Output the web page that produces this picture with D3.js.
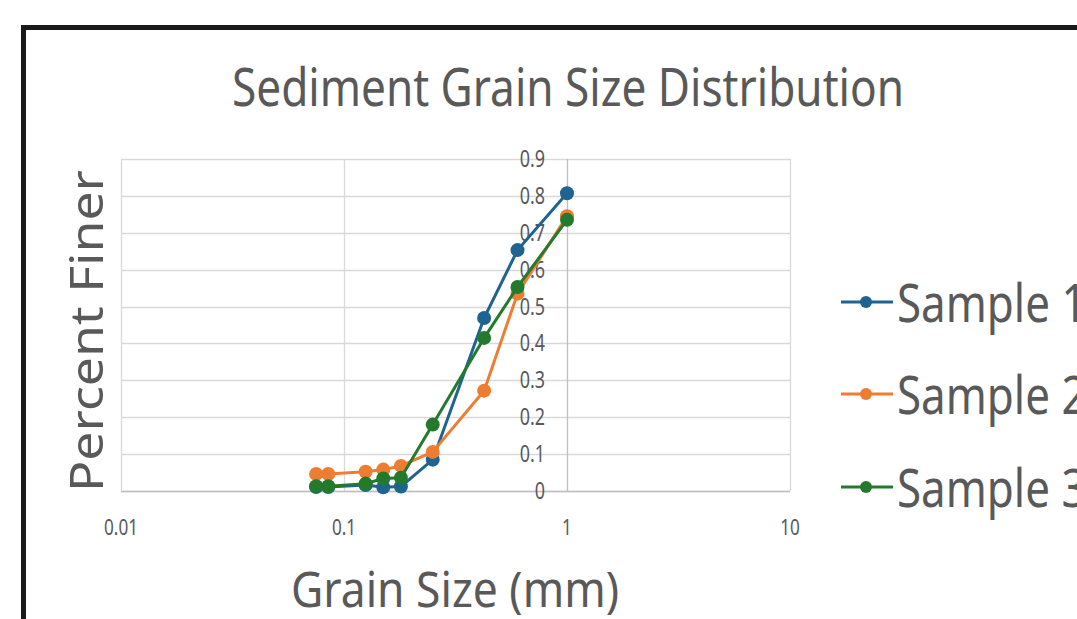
<!DOCTYPE html>
<html><head><meta charset="utf-8">
<script src="https://cdn.jsdelivr.net/npm/d3@7"></script>
<style>html,body{margin:0;padding:0;background:#fff;}svg{display:block;}</style>
</head><body>
<svg id="chart" width="1077" height="619"></svg>
<script>
const grainSizes = [0.075, 0.085, 0.125, 0.15, 0.18, 0.25, 0.425, 0.6, 1.0];
const sample1 = [0.011, 0.011, 0.016, 0.010, 0.012, 0.085, 0.469, 0.653, 0.807];
const sample2 = [0.046, 0.046, 0.052, 0.058, 0.068, 0.106, 0.272, 0.535, 0.745];
const sample3 = [0.013, 0.013, 0.020, 0.034, 0.036, 0.180, 0.415, 0.553, 0.735];
const seriesNames = ["Sample 1", "Sample 2", "Sample 3"];
const seriesColors = ["#1f6391", "#ed7d31", "#237a2c"];
const xTicks = [0.01, 0.1, 1, 10];
const xTickLabels = ["0.01", "0.1", "1", "10"];
const yTicks = [0, 0.1, 0.2, 0.3, 0.4, 0.5, 0.6, 0.7, 0.8, 0.9];
const yTickLabels = ["0", "0.1", "0.2", "0.3", "0.4", "0.5", "0.6", "0.7", "0.8", "0.9"];
const titleText = "Sediment Grain Size Distribution";
const xTitle = "Grain Size (mm)";
const yTitle = "Percent Finer";

const series = [sample1, sample2, sample3];
const svg = d3.select("#chart");
const FONT = "'Noto Sans', 'Open Sans', sans-serif";
const TXT = "#595959";

const x = d3.scaleLog().domain([0.01, 10]).range([121, 790]);
const y = d3.scaleLinear().domain([0, 0.9]).range([491, 159]);

// frame
svg.append("rect").attr("x", 23.5).attr("y", 27.5).attr("width", 1100).attr("height", 700)
  .attr("fill", "none").attr("stroke", "#1a1a1a").attr("stroke-width", 5);

function squeeze(sel, k) {
  sel.each(function(){
    const w = this.getComputedTextLength();
    d3.select(this).attr("textLength", w * k).attr("lengthAdjust", "spacingAndGlyphs");
  });
}
function fitWidth(sel, target) {
  sel.each(function(){
    d3.select(this).attr("textLength", target).attr("lengthAdjust", "spacingAndGlyphs");
  });
}

// title
svg.append("text").attr("x", 568).attr("y", 106).attr("text-anchor", "middle")
  .attr("font-family", FONT).attr("font-size", 52).attr("fill", TXT)
  .text(titleText).call(fitWidth, 672);

// gridlines
const g = svg.append("g");
g.selectAll("line.hg").data(yTicks).join("line")
  .attr("x1", x(0.01)).attr("x2", x(10))
  .attr("y1", d => Math.round(y(d)) + 0.5).attr("y2", d => Math.round(y(d)) + 0.5)
  .attr("stroke", "#d9d9d9").attr("stroke-width", 1.3);
g.selectAll("line.vg").data(xTicks).join("line")
  .attr("x1", d => Math.round(x(d)) + 0.5).attr("x2", d => Math.round(x(d)) + 0.5)
  .attr("y1", y(0.9)).attr("y2", y(0))
  .attr("stroke", d => d === 1 ? "#bfbfbf" : "#d9d9d9").attr("stroke-width", 1.3);
// x axis line at y=0
g.append("line").attr("x1", x(0.01)).attr("x2", x(10))
  .attr("y1", Math.round(y(0)) + 0.5).attr("y2", Math.round(y(0)) + 0.5)
  .attr("stroke", "#bfbfbf").attr("stroke-width", 1.3);

// y tick labels (axis crosses at x = 1)
svg.append("g").selectAll("text").data(yTicks).join("text")
  .attr("x", x(1) - 22).attr("y", d => y(d) + 8)
  .attr("text-anchor", "end").attr("font-family", FONT).attr("font-size", 23).attr("fill", TXT)
  .text((d, i) => yTickLabels[i]).call(squeeze, 0.78);

// x tick labels
svg.append("g").selectAll("text").data(xTicks).join("text")
  .attr("x", d => x(d)).attr("y", 535)
  .attr("text-anchor", "middle").attr("font-family", FONT).attr("font-size", 22).attr("fill", TXT)
  .text((d, i) => xTickLabels[i]).call(squeeze, 0.78);

// axis titles
svg.append("text").attr("x", 455).attr("y", 607).attr("text-anchor", "middle")
  .attr("font-family", FONT).attr("font-size", 49).attr("fill", TXT)
  .text(xTitle).call(fitWidth, 328);
svg.append("text").attr("transform", "translate(103,331) rotate(-90)").attr("text-anchor", "middle")
  .attr("font-family", FONT).attr("font-size", 46).attr("fill", TXT)
  .text(yTitle).call(fitWidth, 322);

// series
const line = d3.line().x((d, i) => x(grainSizes[i])).y(d => y(d));
series.forEach((vals, si) => {
  const sg = svg.append("g");
  sg.append("path").datum(vals).attr("d", line).attr("fill", "none")
    .attr("stroke", seriesColors[si]).attr("stroke-width", 3).attr("stroke-linejoin", "round");
  sg.selectAll("circle").data(vals).join("circle")
    .attr("cx", (d, i) => x(grainSizes[i])).attr("cy", d => y(d)).attr("r", 7)
    .attr("fill", seriesColors[si]);
});

// legend
const legRows = [302, 394, 487];
const lg = svg.append("g");
seriesNames.forEach((name, i) => {
  const ly = legRows[i];
  lg.append("line").attr("x1", 841).attr("x2", 893).attr("y1", ly).attr("y2", ly)
    .attr("stroke", seriesColors[i]).attr("stroke-width", 3);
  lg.append("circle").attr("cx", 866).attr("cy", ly).attr("r", 6).attr("fill", seriesColors[i]);
  const t = lg.append("text").attr("x", 897).attr("y", ly + 20)
    .attr("font-family", FONT).attr("font-size", 52).attr("fill", TXT).text(name);
  const probe = lg.append("text").attr("font-family", FONT).attr("font-size", 52).text("Sample");
  const k = 153 / probe.node().getComputedTextLength();
  probe.remove();
  t.attr("textLength", t.node().getComputedTextLength() * k).attr("lengthAdjust", "spacingAndGlyphs");
});
</script>
</body></html>
